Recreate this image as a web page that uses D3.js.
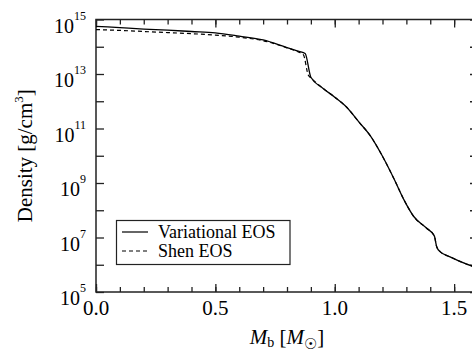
<!DOCTYPE html>
<html>
<head>
<meta charset="utf-8">
<script src="https://cdn.jsdelivr.net/npm/d3@7"></script>
<style>
  body { margin: 0; background: #fff; }
  svg text { font-family: "Liberation Serif", "Times New Roman", serif; fill: #000; }
</style>
</head>
<body>
<div id="chart"></div>
<script>
// baryon mass coordinate [Msun] vs log10 density [g/cm^3]
var varMass = [0.0, 0.1, 0.2, 0.3, 0.4, 0.5, 0.6, 0.7, 0.8, 0.85, 0.876, 0.9, 0.95, 1.0, 1.05, 1.1, 1.15, 1.2, 1.25, 1.29, 1.33, 1.385, 1.417, 1.427, 1.441, 1.483, 1.553, 1.6];
var varLogRho = [14.75, 14.70, 14.65, 14.61, 14.56, 14.51, 14.39, 14.25, 13.97, 13.83, 13.75, 12.88, 12.48, 12.15, 11.78, 11.25, 10.72, 9.98, 9.12, 8.38, 7.78, 7.34, 7.06, 6.66, 6.48, 6.29, 6.02, 5.88];
var shenMass = [0.0, 0.1, 0.2, 0.3, 0.4, 0.5, 0.6, 0.7, 0.8, 0.85, 0.869, 0.889, 0.9, 0.95, 1.0, 1.05, 1.1, 1.15, 1.2, 1.25, 1.29, 1.33, 1.385, 1.417, 1.427, 1.441, 1.483, 1.553, 1.6];
var shenLogRho = [14.63, 14.60, 14.56, 14.52, 14.48, 14.43, 14.35, 14.22, 13.96, 13.80, 13.70, 12.96, 12.86, 12.48, 12.15, 11.78, 11.25, 10.72, 9.98, 9.12, 8.38, 7.78, 7.34, 7.06, 6.66, 6.48, 6.29, 6.02, 5.88];

var xMajor = [0.0, 0.5, 1.0, 1.5];
var xMinor = d3.range(0, 17).map(function(i) { return i / 10; });
var yExp = d3.range(5, 16);
var yLabelExp = [5, 7, 9, 11, 13, 15];
var legendNames = ["Variational EOS", "Shen EOS"];

var width = 472, height = 357;
var margin = {top: 19.5, right: -6, bottom: 65, left: 96};
var iw = width - margin.left - margin.right,
    ih = height - margin.top - margin.bottom;
var serif = "Liberation Serif";

var svg = d3.select("#chart").append("svg")
  .attr("width", width)
  .attr("height", height);

var g = svg.append("g")
  .attr("transform", "translate(" + margin.left + "," + margin.top + ")");

var x = d3.scaleLinear().domain([0, 1.6]).range([0, iw]);
var y = d3.scaleLog().domain([1e5, 1e15]).range([ih, 0]);

// frame
g.append("rect")
  .attr("width", iw).attr("height", ih)
  .attr("fill", "none").attr("stroke", "#222").attr("stroke-width", 1.5);

function strip(sel) {
  sel.select(".domain").remove();
  sel.selectAll("line").attr("stroke", "#222").attr("stroke-width", 1.3);
  sel.selectAll("text").remove();
}

// x ticks (inward, top and bottom)
g.append("g").attr("transform", "translate(0," + ih + ")")
  .call(d3.axisBottom(x).tickValues(xMinor).tickSize(-5)).call(strip);
g.append("g").attr("transform", "translate(0," + ih + ")")
  .call(d3.axisBottom(x).tickValues(xMajor).tickSize(-8)).call(strip);
g.append("g")
  .call(d3.axisTop(x).tickValues(xMinor).tickSize(-5)).call(strip);
g.append("g")
  .call(d3.axisTop(x).tickValues(xMajor).tickSize(-8)).call(strip);

// y ticks (inward, left and right)
var yTicks = yExp.map(function(k) { return Math.pow(10, k); });
g.append("g")
  .call(d3.axisLeft(y).tickValues(yTicks).tickSize(-8)).call(strip);
g.append("g").attr("transform", "translate(" + iw + ",0)")
  .call(d3.axisRight(y).tickValues(yTicks).tickSize(-8)).call(strip);

// x tick labels
g.selectAll(".xl").data(xMajor).enter().append("text")
  .attr("x", function(d) { return x(d); })
  .attr("y", ih + 23)
  .attr("text-anchor", "middle")
  .attr("font-family", serif)
  .attr("font-size", 21)
  .text(function(d) { return d.toFixed(1); });

// y tick labels 10^k
var yl = g.selectAll(".yl").data(yLabelExp).enter().append("text")
  .attr("x", -10)
  .attr("y", function(d) { return y(Math.pow(10, d)) + 13; })
  .attr("text-anchor", "end")
  .attr("font-family", serif)
  .attr("font-size", 20);
yl.append("tspan").text("10");
yl.append("tspan").attr("font-size", 12).attr("dy", -13).text(function(d) { return d; });

// curves
var line = d3.line()
  .x(function(d) { return x(d[0]); })
  .y(function(d) { return y(Math.pow(10, d[1])); })
  .curve(d3.curveMonotoneX);

var plot = g.append("g");
plot.append("path")
  .datum(d3.zip(shenMass, shenLogRho))
  .attr("d", line)
  .attr("fill", "none").attr("stroke", "#000").attr("stroke-width", 1.2)
  .attr("stroke-dasharray", "4,3");
plot.append("path")
  .datum(d3.zip(varMass, varLogRho))
  .attr("d", line)
  .attr("fill", "none").attr("stroke", "#000").attr("stroke-width", 1.3);

// legend
var lg = g.append("g").attr("transform", "translate(" + (116.5 - margin.left) + "," + (220.5 - margin.top) + ")");
lg.append("rect").attr("width", 173.5).attr("height", 44)
  .attr("fill", "#fff").attr("stroke", "#222").attr("stroke-width", 1.2);
legendNames.forEach(function(name, i) {
  var yy = 11.5 + i * 19;
  lg.append("line").attr("x1", 5.5).attr("x2", 31.5).attr("y1", yy).attr("y2", yy)
    .attr("stroke", "#000").attr("stroke-width", 1.2)
    .attr("stroke-dasharray", i === 1 ? "4,3" : null);
  lg.append("text").attr("x", 41.5).attr("y", yy + 6)
    .attr("font-family", serif)
    .attr("font-size", 18).text(name);
});

// axis titles
var xt = svg.append("text")
  .attr("x", margin.left + x(0.8))
  .attr("y", 343.5)
  .attr("text-anchor", "middle")
  .attr("font-family", serif)
  .attr("font-size", 21);
xt.append("tspan").attr("font-style", "italic").text("M");
xt.append("tspan").attr("font-size", 14).attr("dy", 3).text("b");
xt.append("tspan").attr("dy", -3).text(" [");
xt.append("tspan").attr("font-style", "italic").text("M");
xt.append("tspan").attr("font-size", 15).attr("dy", 5).attr("font-family", "DejaVu Sans").text("\u2609");
xt.append("tspan").attr("dy", -5).text("]");

var yt = svg.append("text")
  .attr("transform", "translate(32," + (margin.top + ih / 2) + ") rotate(-90)")
  .attr("text-anchor", "middle")
  .attr("font-family", serif)
  .attr("font-size", 21);
yt.append("tspan").text("Density [g/cm");
yt.append("tspan").attr("font-size", 13).attr("dy", -9).text("3");
yt.append("tspan").attr("dy", 9).text("]");
</script>
</body>
</html>
